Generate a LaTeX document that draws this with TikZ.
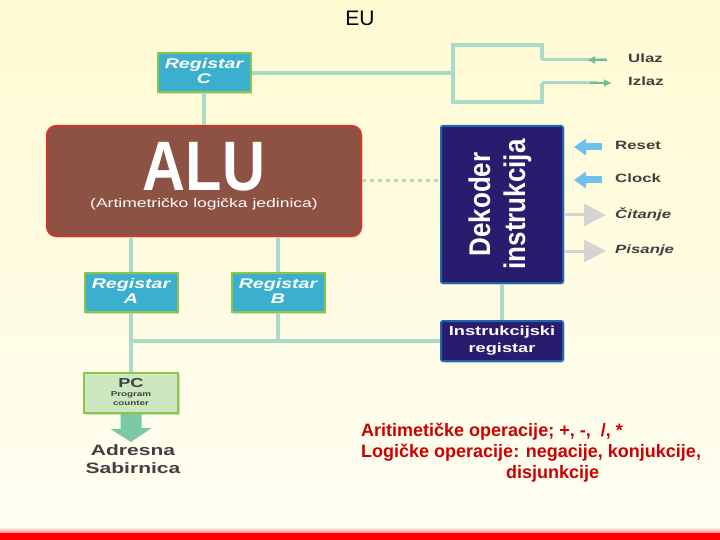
\documentclass[tikz,border=0pt]{standalone}
\usepackage{fontspec}
\setmainfont{Liberation Sans}
\usetikzlibrary{calc, shapes, arrows.meta, positioning, shadows}

\definecolor{bgtop}{RGB}{255,250,210}
\definecolor{bgbot}{RGB}{255,254,242}
\definecolor{busgreen}{RGB}{170,218,200}
\definecolor{regfill}{RGB}{58,176,206}
\definecolor{regborder}{RGB}{140,198,70}
\definecolor{alufill}{RGB}{142,82,68}
\definecolor{aluborder}{RGB}{205,55,40}
\definecolor{decfill}{RGB}{40,28,110}
\definecolor{decborder}{RGB}{30,100,175}
\definecolor{pcfill}{RGB}{204,232,192}
\definecolor{bigarrow}{RGB}{122,200,166}
\definecolor{arrowblue}{RGB}{110,192,236}
\definecolor{arrowgray}{RGB}{212,212,212}
\definecolor{iogreen}{RGB}{110,190,150}
\definecolor{lbltext}{RGB}{64,64,64}
\definecolor{optext}{RGB}{204,0,0}

% stretched text, the slide graphic is wider than it is tall
\newcommand{\wide}[1]{\scalebox{1.4}[1]{\begin{tabular}{@{}c@{}}#1\end{tabular}}}

\begin{document}
\begin{tikzpicture}[
        x=1pt, y=-1pt,
        bus/.style={draw=busgreen, line width=4pt},
        dots/.style={draw=busgreen, line width=3pt, dash pattern=on 4pt off 4pt},
        box_shadow/.style={drop shadow={shadow xshift=1.5pt, shadow yshift=-1.5pt, opacity=0.15, fill=black}},
        reg_box/.style={rectangle, draw=regborder, fill=regfill, line width=2pt, minimum width=93pt, minimum height=39pt, inner sep=0pt, text=white, font=\fontsize{14}{15}\selectfont\bfseries\itshape, box_shadow},
        alu_box/.style={rectangle, rounded corners=9pt, draw=aluborder, fill=alufill, line width=2pt, minimum width=314pt, minimum height=110pt, inner sep=0pt, box_shadow},
        dec_box/.style={rectangle, rounded corners=2pt, draw=decborder, fill=decfill, line width=2pt, minimum width=122pt, inner sep=0pt, text=white, box_shadow},
        pc_box/.style={rectangle, draw=regborder, fill=pcfill, line width=2pt, minimum width=94pt, minimum height=40pt, inner sep=0pt, text=lbltext, font=\fontsize{7}{9}\selectfont\bfseries, box_shadow},
        lbl/.style={anchor=west, inner sep=0pt, text=lbltext, font=\fontsize{12}{14}\selectfont\bfseries},
        in_arrow/.style={draw=arrowblue, line width=7pt, -{Triangle[length=12pt,width=16pt]}},
        out_arrow/.style={draw=arrowgray, line width=3pt, -{Triangle[length=22pt,width=22pt]}},
        io_arrow/.style={draw=iogreen, line width=2pt, -{Latex[length=8pt,width=8pt]}}
    ]
    \useasboundingbox (0,0) rectangle (720,540);
    \shade[top color=bgtop, bottom color=bgbot] (0,0) rectangle (720,540);
    \shade[top color=bgbot, bottom color=red!45] (0,527) rectangle (720,533);
    \fill[red] (0,533) rectangle (720,540);

    \node[font=\fontsize{21}{24}\selectfont] (eu) at (360,18) {EU};

    % boxes
    \node[reg_box] (regC) at (204,73) {\wide{Registar\\C}};
    \node[alu_box] (alu) at (204,181) {};
    \node[text=white, inner sep=0pt] (alu_name) at ([yshift=14pt]alu.center) {\scalebox{0.85}[1]{\fontsize{70}{70}\selectfont\bfseries ALU}};
    \node[text=white, inner sep=0pt, font=\fontsize{12.5}{14}\selectfont] (alu_sub) at ([yshift=-24pt]alu.center) {\wide{(Artimetričko logička jedinica)}};
    \node[reg_box] (regA) at (131,292.5) {\wide{Registar\\A}};
    \node[reg_box] (regB) at (278,292.5) {\wide{Registar\\B}};
    \node[pc_box] (pc) at (131,393) {\wide{{\fontsize{13}{13}\selectfont PC}\\Program\\counter}};

    \node[dec_box, minimum height=157pt] (dec) at (502,204.5) {};
    \node[rotate=90, text=white, inner sep=0pt, align=center, font=\fontsize{26}{35}\selectfont\bfseries] (dec_txt) at ([xshift=-2pt]dec.center) {\scalebox{1}[1.15]{Dekoder}\\\scalebox{1}[1.15]{instrukcija}};
    \node[dec_box, minimum height=40pt, font=\fontsize{13}{17}\selectfont\bfseries] (ir) at (502,341) {\wide{Instrukcijski\\registar}};

    % labels
    \node[lbl] (ulaz) at (628,60) {\wide{Ulaz}};
    \node[lbl] (izlaz) at (628,83) {\wide{Izlaz}};
    \node[lbl] (reset) at (615,147) {\wide{Reset}};
    \node[lbl] (clock) at (615,180) {\wide{Clock}};
    \node[lbl, font=\fontsize{12}{14}\selectfont\bfseries\itshape] (citanje) at (615,215) {\wide{Čitanje}};
    \node[lbl, font=\fontsize{12}{14}\selectfont\bfseries\itshape] (pisanje) at (615,251) {\wide{Pisanje}};
    \node[lbl, anchor=center, font=\fontsize{15}{18}\selectfont\bfseries] (bus_adr) at (133,461) {\wide{Adresna\\Sabirnica}};

    \node[anchor=north west, inner sep=0pt, align=left, text=optext, font=\fontsize{18}{21}\selectfont\bfseries] (ops) at (361,423) {Aritimetičke operacije; +, -, \ /, *\\Logičke operacije: negacije, konjukcije,\\\hspace*{145pt}disjunkcije};

    % bus lines
    \coordinate (io) at (453,73);
    \coordinate (in_end) at (542,60);
    \coordinate (out_end) at (542,83);
    \draw[bus] (regC) -- (alu);
    \draw[bus] (regC.east) -- (io);
    \draw[bus] (in_end) -- (542,45) -- (453,45) -- (453,102) -- (542,102) -- (out_end);
    \draw[bus, line width=3pt] (in_end) -- ([xshift=-21pt]ulaz.west);
    \draw[bus, line width=3pt] (out_end) -- ([xshift=-30pt]izlaz.west);
    \draw[io_arrow] ([xshift=-21pt]ulaz.west) -- ([xshift=-41pt]ulaz.west);
    \draw[io_arrow] ([xshift=-38pt]izlaz.west) -- ([xshift=-16pt]izlaz.west);

    \draw[dots] (alu.east) -- (alu.east -| dec.west);
    \draw[bus] (dec) -- (ir);
    \draw[bus] (regA.north) -- (regA.north |- alu.south);
    \draw[bus] (regB.north) -- (regB.north |- alu.south);
    \draw[bus] (regA) -- (pc);
    \draw[bus] (ir.west) -- (ir.west -| regA.south);
    \draw[bus] (regB.south) -- (regB.south |- ir.west);

    % control signals
    \draw[in_arrow] ([xshift=-13pt]reset.west) -- ([xshift=10pt]dec.east |- reset);
    \draw[in_arrow] ([xshift=-13pt]clock.west) -- ([xshift=10pt]dec.east |- clock);
    \draw[out_arrow] (dec.east |- citanje) -- ([xshift=-9pt]citanje.west);
    \draw[out_arrow] (dec.east |- pisanje) -- ([xshift=-9pt]pisanje.west);

    % address bus arrow
    \fill[bigarrow] ([xshift=-10.5pt]pc.south) -- ++(0,15) -- ++(-10,0) -- (pc.south |- 0,442) -- ++(20.5,-14) -- ++(-10,0) -- ([xshift=10.5pt]pc.south) -- cycle;
\end{tikzpicture}
\end{document}
